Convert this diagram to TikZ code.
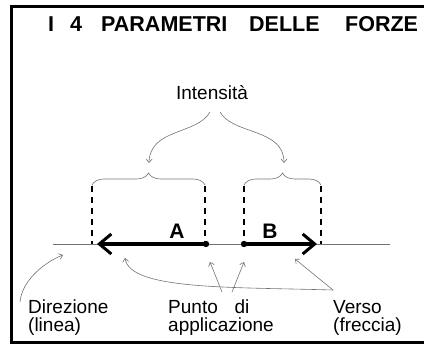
\documentclass[tikz,border=0pt]{standalone}
\usepackage{fontspec}
\setmainfont{Liberation Sans}
\usetikzlibrary{arrows.meta,decorations.pathreplacing}
\begin{document}
\begin{tikzpicture}[x=1pt,y=-1pt,
  thingray/.style={draw=black!55, line width=0.6pt},
  ptr/.style={thingray, -{Straight Barb[length=3.5pt,width=6pt]}},
  force/.style={line width=3.2pt, -{Straight Barb[length=12pt,width=20pt,line width=3pt]}},
  guide/.style={line width=2pt, dash pattern=on 6pt off 5pt},
  lbl/.style={font=\fontsize{19}{18}\selectfont, inner sep=0pt},
  ttl/.style={font=\fontsize{21.5}{24}\selectfont\bfseries, inner sep=0pt, anchor=base west},
  brc/.style={thingray, decorate, decoration={brace, amplitude=12pt}},
]
\useasboundingbox (0,0) rectangle (424,347);
\draw[line width=3pt] (424,7) -- (11,7) -- (11,343) -- (424,343);
% title
\node[ttl] (t1) at (48,32) {I};
\node[ttl] (t2) at (70,32) {4};
\node[ttl] (t3) at (101,32) {PARAMETRI};
\node[ttl] (t4) at (249,32) {DELLE};
\node[ttl] (t5) at (345,32) {FORZE};
% coordinates
\coordinate (lineL) at (53,244);
\coordinate (lineR) at (390,244);
\coordinate (Ltip) at (97,244);
\coordinate (Lpt) at (206,244);
\coordinate (Rpt) at (244,244);
\coordinate (Rtip) at (317,244);
% line of action
\draw[thingray, line width=0.8pt] (lineL) -- (lineR);
% dashed guides
\draw[guide] (92,186) -- (92,244);
\draw[guide] (205,186) -- (205,244);
\draw[guide] (244,186) -- (244,244);
\draw[guide] (321,186) -- (321,244);
% forces
\draw[force] (Lpt) -- (Ltip);
\draw[force] (Rpt) -- (Rtip);
\fill (Lpt) circle (3.2);
\fill (Rpt) circle (3.2);
\node[lbl, font=\fontsize{21}{22}\selectfont\bfseries] (A) at (177,231) {A};
\node[lbl, font=\fontsize{21}{22}\selectfont\bfseries] (B) at (270,231) {B};
% braces
\coordinate (b1s) at (92,185);
\coordinate (b1e) at (205,185);
\coordinate (b2s) at (244,185);
\coordinate (b2e) at (321,185);
\draw[brc] (b1s) -- (b1e);
\draw[brc] (b2s) -- (b2e);
% intensity
\node[lbl] (intens) at (212,93) {Intensità};
\coordinate (i1) at (210,112);
\coordinate (i2) at (220,112);
\coordinate (bt1) at (149,163);
\coordinate (bt2) at (284,163);
\draw[ptr] (i1) .. controls (197,135) and (150,128) .. (bt1);
\draw[ptr] (i2) .. controls (233,135) and (284,128) .. (bt2);
% bottom labels
\node[lbl, anchor=north west, align=left] (dir) at (28,300) {Direzione\\(linea)};
\node[lbl, anchor=north west, align=left] (punto) at (168,300) {Punto\hspace{0.6em} di\\applicazione};
\node[lbl, anchor=north west, align=left] (verso) at (333,300) {Verso\\(freccia)};
% pointers
\coordinate (d0) at (20,302);
\coordinate (d1) at (63,255);
\draw[ptr] (d0) .. controls (22,280) and (45,262) .. (d1);
\coordinate (p0) at (222,292);
\coordinate (p1) at (232,292);
\coordinate (pA) at (210,262);
\coordinate (pB) at (244,262);
\draw[ptr] (p0) -- (pA);
\draw[ptr] (p1) -- (pB);
\coordinate (v0) at (333,290);
\coordinate (vB) at (295,259);
\coordinate (vA) at (125,258);
\draw[ptr] (v0) -- (vB);
\draw[ptr] (v0) .. controls (230,287) and (130,290) .. (vA);
\end{tikzpicture}
\end{document}
